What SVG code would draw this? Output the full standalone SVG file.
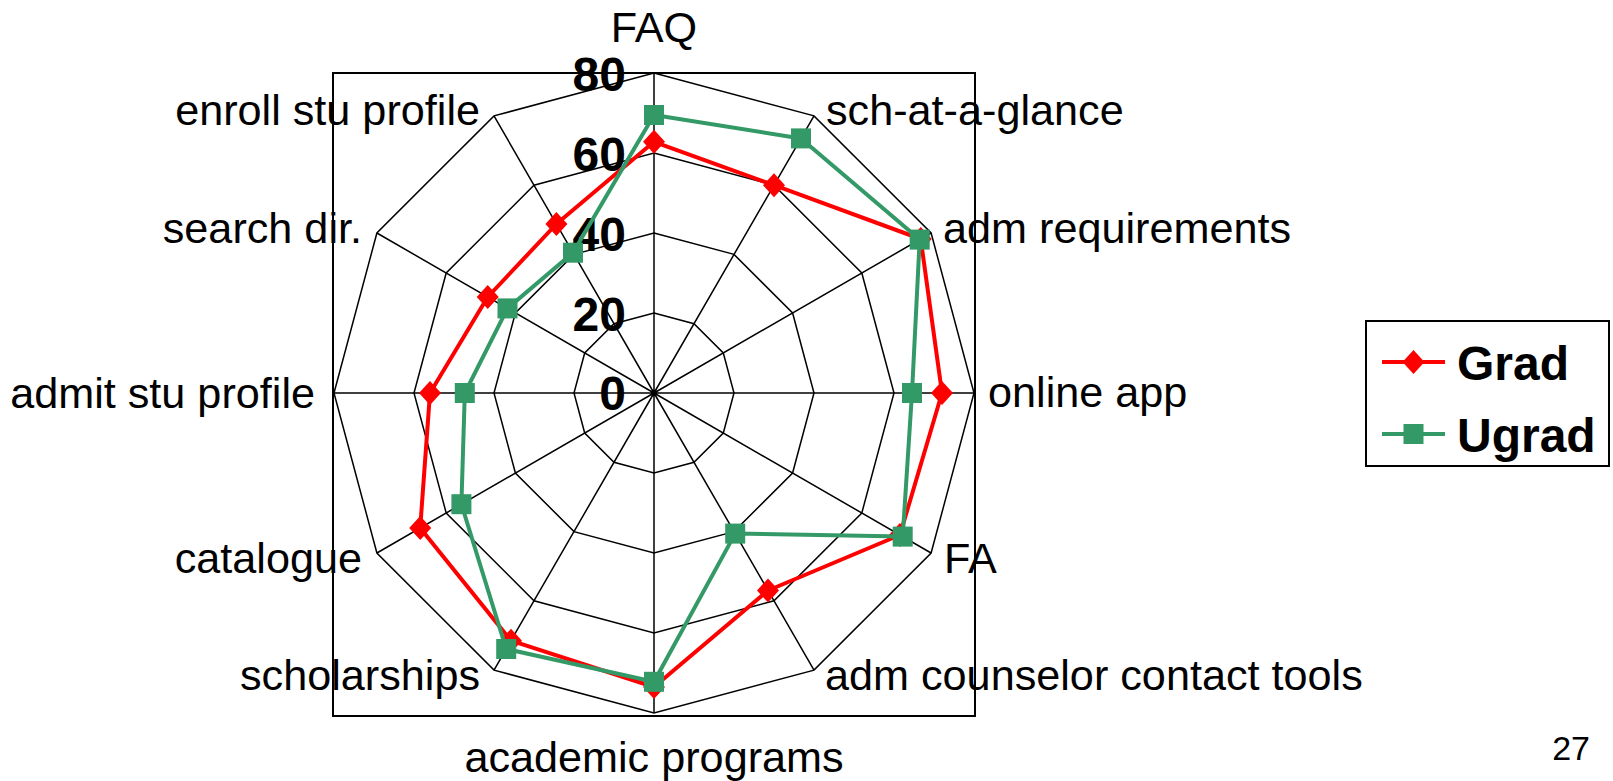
<svg xmlns="http://www.w3.org/2000/svg" xmlns:xlink="http://www.w3.org/1999/xlink" width="1613" height="781" viewBox="0 0 1613 781">
<style>
.lbl{font-family:"Liberation Sans",Arial,sans-serif;font-size:43.2px;fill:#000}
.num{font-family:"Liberation Sans",Arial,sans-serif;font-size:48px;font-weight:bold;fill:#000;text-anchor:end}
.leg{font-family:"Liberation Sans",Arial,sans-serif;font-size:48px;font-weight:bold;fill:#000}
.grid{fill:none;stroke:#000;stroke-width:1.5}
.grad{fill:none;stroke:#FF0000;stroke-width:4;stroke-linejoin:round}
.ugrad{fill:none;stroke:#339966;stroke-width:4;stroke-linejoin:round}
</style>
<defs>
<path id="dia" d="M0,-12 L11,0 L0,12 L-11,0 Z" fill="#FF0000"/>
<rect id="sq" x="-10" y="-10" width="20" height="20" fill="#339966"/>
</defs>
<rect width="1613" height="781" fill="#fff"/>
<g id="plot-area">
<rect x="333" y="73" width="642" height="643" fill="none" stroke="#000" stroke-width="2"/>
</g>
<g id="grid">
<polygon class="grid" points="654,313 694,323.7 723.3,353 734,393 723.3,433 694,462.3 654,473 614,462.3 584.7,433 574,393 584.7,353 614,323.7"/>
<polygon class="grid" points="654,233 734,254.4 792.6,313 814,393 792.6,473 734,531.6 654,553 574,531.6 515.4,473 494,393 515.4,313 574,254.4"/>
<polygon class="grid" points="654,153 774,185.2 861.8,273 894,393 861.8,513 774,600.8 654,633 534,600.8 446.2,513 414,393 446.2,273 534,185.2"/>
<polygon class="grid" points="654,73 814,115.9 931.1,233 974,393 931.1,553 814,670.1 654,713 494,670.1 376.9,553 334,393 376.9,233 494,115.9"/>
<path class="grid" d="M654,393L654,73M654,393L814,115.9M654,393L931.1,233M654,393L974,393M654,393L931.1,553M654,393L814,670.1M654,393L654,713M654,393L494,670.1M654,393L376.9,553M654,393L334,393M654,393L376.9,233M654,393L494,115.9"/>
</g>
<g id="axis-values">
<text class="num" x="626" y="410">0</text>
<text class="num" x="626" y="331">20</text>
<text class="num" x="626" y="251">40</text>
<text class="num" x="626" y="171">60</text>
<text class="num" x="626" y="91">80</text>
</g>
<g id="connectors">
<polygon id="series-grad" class="grad" points="654,141.8 774,185.2 920.7,239 942,393 899.9,535 768,590.5 654,687 511,640.7 420.2,528 430,393 487.7,297 556.4,224"/>
<g id="grad-markers">
<use href="#dia" x="654" y="141.8"/><use href="#dia" x="774" y="185.2"/><use href="#dia" x="920.7" y="239"/><use href="#dia" x="942" y="393"/><use href="#dia" x="899.9" y="535"/><use href="#dia" x="768" y="590.5"/><use href="#dia" x="654" y="687"/><use href="#dia" x="511" y="640.7"/><use href="#dia" x="420.2" y="528"/><use href="#dia" x="430" y="393"/><use href="#dia" x="487.7" y="297"/><use href="#dia" x="556.4" y="224"/>
</g>
<polygon id="series-ugrad" class="ugrad" points="654,115 801,138.4 919.7,239.6 912,393 902.7,536.6 735.2,533.6 654,681.8 506.2,649 461.4,504.2 464.8,393 507.5,308.4 573,252.7"/>
<g id="ugrad-markers">
<use href="#sq" x="654" y="115"/><use href="#sq" x="801" y="138.4"/><use href="#sq" x="919.7" y="239.6"/><use href="#sq" x="912" y="393"/><use href="#sq" x="902.7" y="536.6"/><use href="#sq" x="735.2" y="533.6"/><use href="#sq" x="654" y="681.8"/><use href="#sq" x="506.2" y="649"/><use href="#sq" x="461.4" y="504.2"/><use href="#sq" x="464.8" y="393"/><use href="#sq" x="507.5" y="308.4"/><use href="#sq" x="573" y="252.7"/>
</g>
</g>
<g id="category-labels">
<g id="n-faq"><text class="lbl" x="654" y="42" text-anchor="middle">FAQ</text></g>
<g id="n-sch"><text class="lbl" x="826" y="125">sch-at-a-glance</text></g>
<g id="n-admreq"><text class="lbl" x="943" y="243">adm requirements</text></g>
<g id="n-online"><text class="lbl" x="988" y="407">online app</text></g>
<g id="n-fa"><text class="lbl" x="944" y="573">FA</text></g>
<g id="n-counsel"><text class="lbl" x="825" y="690">adm counselor contact tools</text></g>
<g id="n-academic"><text class="lbl" x="654" y="772" text-anchor="middle">academic programs</text></g>
<g id="n-scholar"><text class="lbl" x="480" y="690" text-anchor="end">scholarships</text></g>
<g id="n-catalogue"><text class="lbl" x="362" y="573" text-anchor="end">catalogue</text></g>
<g id="n-admit"><text class="lbl" x="315" y="408" text-anchor="end">admit stu profile</text></g>
<g id="n-search"><text class="lbl" x="362" y="243" text-anchor="end">search dir.</text></g>
<g id="n-enroll"><text class="lbl" x="480" y="125" text-anchor="end">enroll stu profile</text></g>
</g>
<g id="legend">
<rect x="1366" y="321" width="243" height="145" fill="#fff" stroke="#000" stroke-width="2"/>
<line x1="1382" y1="362" x2="1445" y2="362" stroke="#FF0000" stroke-width="4"/>
<use href="#dia" x="1413.5" y="362"/>
<text class="leg" x="1457" y="380">Grad</text>
<line x1="1382" y1="434" x2="1445" y2="434" stroke="#339966" stroke-width="4"/>
<use href="#sq" x="1413.5" y="434"/>
<text class="leg" x="1457" y="452">Ugrad</text>
</g>
<g id="page-number">
<text class="lbl" x="1590" y="760" text-anchor="end" style="font-size:34px">27</text>
</g>
</svg>
